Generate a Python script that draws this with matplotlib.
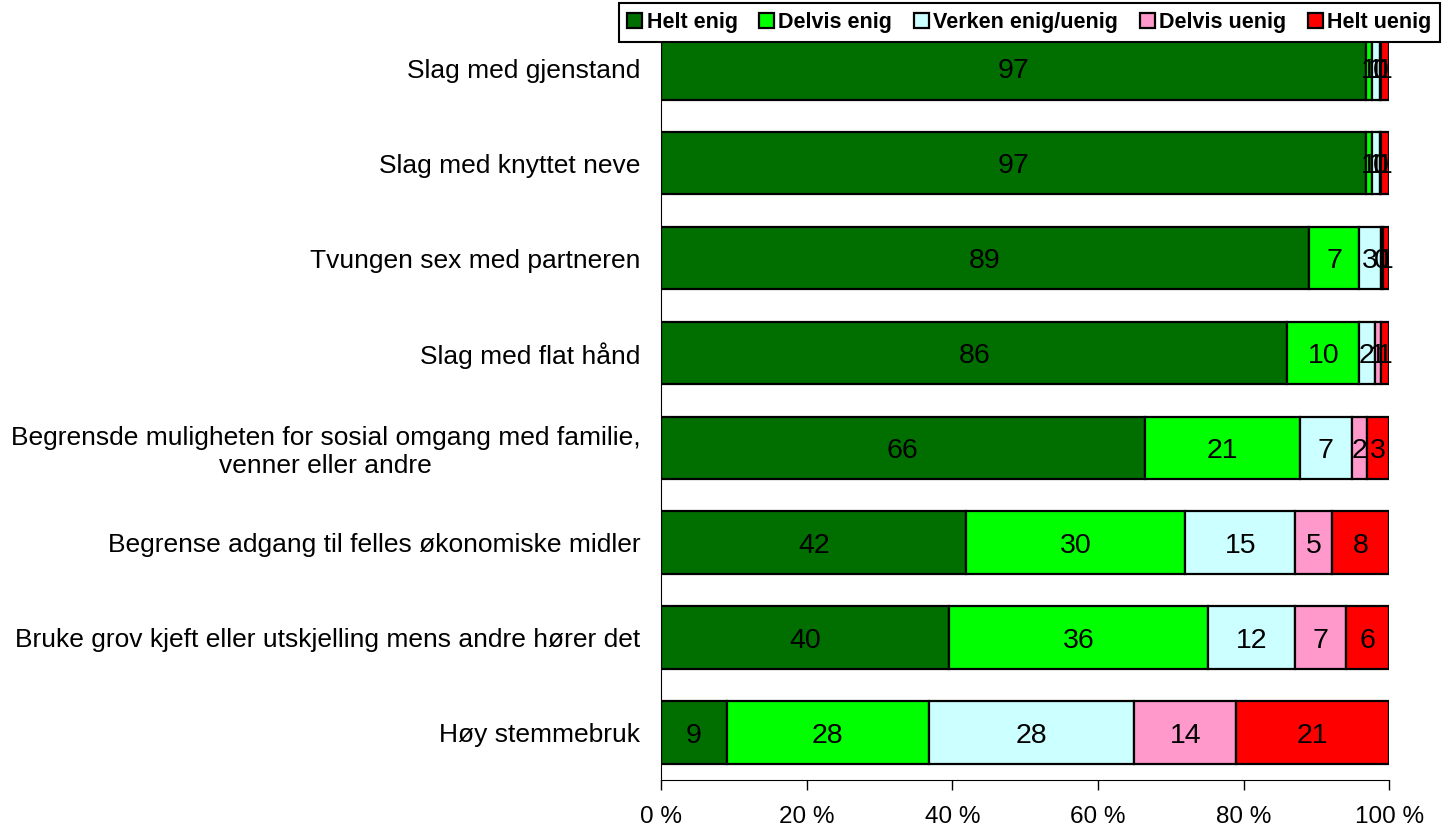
import numpy as np
import matplotlib
matplotlib.use('Agg')
import matplotlib.pyplot as plt
import matplotlib.patches as mpatches

categories = ['Slag med gjenstand',
              'Slag med knyttet neve',
              'Tvungen sex med partneren',
              'Slag med flat hånd',
              'Begrensde muligheten for sosial omgang med familie,\nvenner eller andre',
              'Begrense adgang til felles økonomiske midler',
              'Bruke grov kjeft eller utskjelling mens andre hører det',
              'Høy stemmebruk']
series = ['Helt enig', 'Delvis enig', 'Verken enig/uenig', 'Delvis uenig', 'Helt uenig']

helt_enig = [96.8, 96.8, 89.0, 86.0, 66.4, 41.9, 39.5, 9.0]
delvis_enig = [0.9, 0.9, 6.9, 9.9, 21.3, 30.1, 35.6, 27.8]
verken = [1.0, 1.0, 3.0, 2.1, 7.2, 15.1, 12.0, 28.2]
delvis_uenig = [0.2, 0.2, 0.3, 0.9, 2.1, 5.1, 7.0, 14.0]
helt_uenig = [1.1, 1.1, 0.8, 1.1, 3.0, 7.8, 5.9, 21.0]

plt.rcParams['font.family'] = ['Liberation Sans', 'DejaVu Sans']

colors = ['#006F00', '#00FF00', '#CCFFFF', '#FF99CC', '#FF0000']
data = [helt_enig, delvis_enig, verken, delvis_uenig, helt_uenig]

fig = plt.figure(figsize=(14.5, 8.32), dpi=100)
ax = fig.add_axes([0.456, 0.0625, 0.502, 0.9125])

ys = np.arange(len(categories))
left = np.zeros(len(categories))
for vals, col in zip(data, colors):
    vals = np.array(vals)
    ax.barh(ys, vals, left=left, height=0.66, color=col,
            edgecolor='black', linewidth=1.6)
    for y, l, v in zip(ys, left, vals):
        ax.text(l + v / 2, y, '{0:.0f}'.format(v), ha='center',
                va='center_baseline', fontsize=20.5)
    left += vals

ax.set_xlim(0, 100)
ax.set_ylim(len(categories) - 0.5, -0.5)
ax.set_yticks(ys)
ax.set_yticklabels(categories, fontsize=19, ha='right', multialignment='center')
ax.tick_params(axis='y', length=0, pad=15)
xt = np.arange(0, 101, 20)
ax.set_xticks(xt)
ax.set_xticklabels(['{0} %'.format(x) for x in xt], fontsize=17.5)
ax.tick_params(axis='x', length=7, width=1, pad=12)
ax.spines['top'].set_visible(False)
ax.spines['right'].set_visible(False)

handles = [mpatches.Patch(facecolor=c, edgecolor='black', linewidth=1.6, label=s)
           for c, s in zip(colors, series)]
leg = fig.legend(handles=handles, loc='upper right',
                 bbox_to_anchor=(0.993, 0.996), borderaxespad=0,
                 ncol=5, fancybox=False, edgecolor='black', framealpha=1,
                 prop={'weight': 'bold', 'size': 15.5}, handlelength=0.7,
                 handleheight=0.7, handletextpad=0.2, columnspacing=1.0,
                 borderpad=0.4)
leg.get_frame().set_linewidth(1.5)

plt.savefig('out.png', dpi=100)
